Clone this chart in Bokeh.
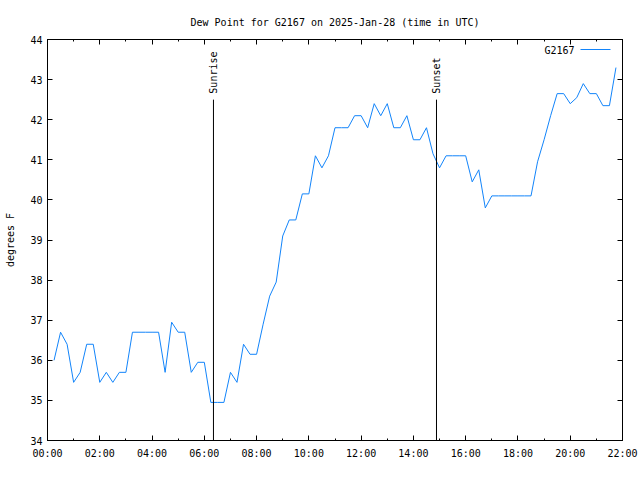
import math
import pandas as pd
from bokeh.plotting import figure
from bokeh.models import (Range1d, FixedTicker, LinearAxis, CustomJSTickFormatter,
                          Label, Arrow, ColumnDataSource, Title)
from bokeh.core.properties import value
from bokeh.embed import file_html
from bokeh.resources import INLINE

# ---------------- data ----------------
title_text = "Dew Point for G2167 on 2025-Jan-28 (time in UTC)"
station = "G2167"
y_label = "degrees F"

times = pd.date_range("2025-01-28 00:15", "2025-01-28 21:45", freq="15min")
dew_point = [
    36.0, 36.7, 36.4, 35.45, 35.7, 36.4, 36.4, 35.45, 35.7, 35.45,
    35.7, 35.7, 36.7, 36.7, 36.7, 36.7, 36.7, 35.7, 36.95, 36.7,
    36.7, 35.7, 35.95, 35.95, 34.95, 34.95, 34.95, 35.7, 35.45, 36.4,
    36.15, 36.15, 36.9, 37.6, 37.95, 39.1, 39.5, 39.5, 40.15, 40.15,
    41.1, 40.8, 41.1, 41.8, 41.8, 41.8, 42.1, 42.1, 41.8, 42.4,
    42.1, 42.4, 41.8, 41.8, 42.1, 41.5, 41.5, 41.8, 41.15, 40.8,
    41.1, 41.1, 41.1, 41.1, 40.45, 40.75, 39.8, 40.1, 40.1, 40.1,
    40.1, 40.1, 40.1, 40.1, 40.95, 41.5, 42.1, 42.65, 42.65, 42.4,
    42.55, 42.9, 42.65, 42.65, 42.35, 42.35, 43.3,
]

sun_events = ["Sunrise", "Sunset"]
sun_times = ["06:21", "14:53"]
sun_line_top = [42.5, 42.5]

x_tick_hours = [0, 2, 4, 6, 8, 10, 12, 14, 16, 18, 20, 22]
x_tick_labels = ["00:00", "02:00", "04:00", "06:00", "08:00", "10:00",
                 "12:00", "14:00", "16:00", "18:00", "20:00", "22:00"]
x_minor_hours = list(range(0, 23))
y_ticks = [34, 35, 36, 37, 38, 39, 40, 41, 42, 43, 44]

# ---------------- helpers ----------------
def to_hours(ts):
    return ts.hour + ts.minute / 60.0

hours = [to_hours(t) for t in times]
sun_hours = [int(s[:2]) + int(s[3:]) / 60.0 for s in sun_times]

FONT = "DejaVu Sans Mono"
FSIZE = "10px"
LINE_COLOR = "#1284fa"

p = figure(width=640, height=480, output_backend="svg", toolbar_location=None,
           x_range=Range1d(0, 22), y_range=Range1d(34, 44),
           min_border_left=47, min_border_right=18, min_border_top=39,
           min_border_bottom=40, x_axis_location=None, y_axis_location=None)
p.title = Title(text=title_text, align="center", text_font=FONT,
                text_font_size=FSIZE, text_font_style="normal",
                text_color="black", standoff=24)
p.xgrid.visible = False
p.ygrid.visible = False
p.outline_line_color = "black"
p.outline_line_width = 1
p.background_fill_color = "white"
p.border_fill_color = "white"

xt = FixedTicker(ticks=x_tick_hours, minor_ticks=x_minor_hours)
yt = FixedTicker(ticks=y_ticks, minor_ticks=[])
blank = CustomJSTickFormatter(code="return ''")

def style_axis(ax):
    ax.major_tick_in = 5
    ax.major_tick_out = 0
    ax.minor_tick_in = 2
    ax.minor_tick_out = 0
    ax.axis_line_color = "black"
    ax.major_tick_line_color = "black"
    ax.minor_tick_line_color = "black"
    ax.major_label_text_font = FONT
    ax.major_label_text_font_size = FSIZE
    ax.major_label_text_color = "black"
    ax.axis_label_text_font = FONT
    ax.axis_label_text_font_size = FSIZE
    ax.axis_label_text_font_style = "normal"
    ax.axis_label_text_color = "black"

xb = LinearAxis(ticker=xt)
style_axis(xb)
xb.major_label_overrides = {h: l for h, l in zip(x_tick_hours, x_tick_labels)}
xb.major_label_standoff = 7
p.add_layout(xb, "below")

xa = LinearAxis(ticker=xt, formatter=blank)
style_axis(xa)
xa.major_label_text_font_size = "0px"
xa.major_label_standoff = 0
p.add_layout(xa, "above")

yl = LinearAxis(ticker=yt, axis_label=y_label)
style_axis(yl)
yl.major_label_standoff = 5
yl.axis_label_standoff = 11
p.add_layout(yl, "left")

yr = LinearAxis(ticker=yt, formatter=blank)
style_axis(yr)
yr.major_label_text_font_size = "0px"
yr.major_label_standoff = 0
p.add_layout(yr, "right")

# data line
p.line(hours, dew_point, line_color=LINE_COLOR, line_width=1)

# sunrise / sunset markers
src = ColumnDataSource(dict(x=sun_hours, y0=[34] * len(sun_hours), y1=sun_line_top,
                            label=sun_events))
p.segment(x0="x", y0="y0", x1="x", y1="y1", source=src, line_color="black",
          line_width=1)
p.text(x="x", y="y1", text="label", source=src, angle=math.pi / 2,
       text_align="left", text_baseline="middle", y_offset=-6,
       text_font=value(FONT), text_font_size=FSIZE, text_color="black")

# legend (gnuplot style: text then line sample)
p.add_layout(Label(x=527, y=390, x_units="screen", y_units="screen", text=station,
                   text_align="right", text_baseline="middle", text_font=FONT,
                   text_font_size=FSIZE, text_color="black"))
p.add_layout(Arrow(end=None, x_start=533, y_start=391, x_end=563, y_end=391,
                   start_units="screen", end_units="screen",
                   line_color=LINE_COLOR, line_width=1))

open("out.html", "w").write(file_html(p, INLINE))
